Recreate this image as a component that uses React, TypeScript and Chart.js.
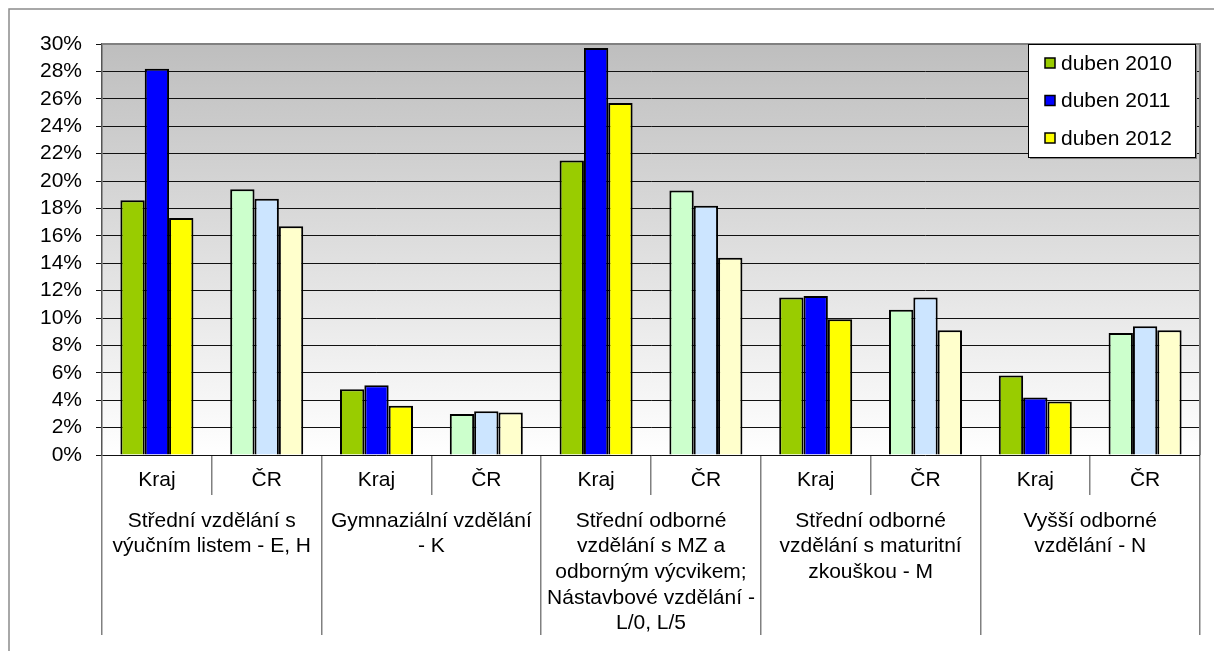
import React, { useEffect, useRef } from "react";
import { Chart, registerables } from "chart.js";

Chart.register(...registerables);

const categories = ["Kraj", "ČR", "Kraj", "ČR", "Kraj", "ČR", "Kraj", "ČR", "Kraj", "ČR"];
const groupLabels = [
  ["Střední vzdělání s", "výučním listem - E, H"],
  ["Gymnaziální vzdělání", "- K"],
  ["Střední odborné", "vzdělání s MZ a", "odborným výcvikem;", "Nástavbové vzdělání -", "L/0, L/5"],
  ["Střední odborné", "vzdělání s maturitní", "zkouškou - M"],
  ["Vyšší odborné", "vzdělání - N"],
];
const seriesNames = ["duben 2010", "duben 2011", "duben 2012"];
const duben2010 = [18.6, 19.4, 4.8, 3.0, 21.5, 19.3, 11.5, 10.6, 5.8, 8.9];
const duben2011 = [28.2, 18.7, 5.1, 3.2, 29.7, 18.2, 11.6, 11.5, 4.2, 9.4];
const duben2012 = [17.3, 16.7, 3.6, 3.1, 25.7, 14.4, 9.9, 9.1, 3.9, 9.1];
const strongColors = ["#99CC00", "#0000FF", "#FFFF00"];
const paleColors = ["#CCFFCC", "#CCE5FF", "#FFFFCC"];

const FONT = "'Liberation Sans', Arial, sans-serif";
const FS = 21;

const backgroundPlugin = {
  id: "bgPlugin",
  beforeDraw(chart: any) {
    const { ctx, chartArea } = chart;
    ctx.save();
    ctx.strokeStyle = "#8c8c8c";
    ctx.lineWidth = 1.5;
    ctx.strokeRect(1, 1, chart.width + 20, chart.height + 20);
    const g = ctx.createLinearGradient(0, chartArea.top, 0, chartArea.bottom);
    g.addColorStop(0, "#BEBEBE");
    g.addColorStop(1, "#FFFFFF");
    ctx.fillStyle = g;
    ctx.fillRect(chartArea.left, chartArea.top, chartArea.right - chartArea.left, chartArea.bottom - chartArea.top);
    ctx.restore();
  },
  afterDraw(chart: any) {
    const { ctx, chartArea } = chart;
    ctx.save();
    ctx.strokeStyle = "#808080";
    ctx.lineWidth = 2;
    ctx.beginPath();
    ctx.moveTo(chartArea.left, chartArea.top);
    ctx.lineTo(chartArea.right, chartArea.top);
    ctx.lineTo(chartArea.right, chartArea.bottom);
    ctx.stroke();

    const w = 167;
    const h = 113;
    const bx = chartArea.right - 5 - w;
    const by = chartArea.top;
    ctx.fillStyle = "#808080";
    ctx.fillRect(bx + 2, by + 2, w, h);
    ctx.fillStyle = "#FFFFFF";
    ctx.fillRect(bx, by, w, h);
    ctx.strokeStyle = "#000";
    ctx.lineWidth = 1;
    ctx.strokeRect(bx + 0.5, by + 0.5, w, h);
    ctx.font = `${FS}px ${FONT}`;
    ctx.textBaseline = "middle";
    ctx.textAlign = "left";
    seriesNames.forEach((name, i) => {
      const cy = by + 19 + i * 37.5;
      ctx.fillStyle = strongColors[i];
      ctx.fillRect(bx + 17, cy - 5, 10, 10);
      ctx.strokeStyle = "#000";
      ctx.lineWidth = 1.5;
      ctx.strokeRect(bx + 17, cy - 5, 10, 10);
      ctx.fillStyle = "#000";
      ctx.fillText(name, bx + 33, cy + 1);
    });
    ctx.restore();
  },
};

export default function App() {
  const ref = useRef<HTMLCanvasElement | null>(null);

  useEffect(() => {
    if (!ref.current) return;
    const series = [duben2010, duben2011, duben2012];
    const chart = new Chart(ref.current, {
      type: "bar",
      data: {
        labels: categories,
        datasets: series.map((vals, i) => ({
          label: seriesNames[i],
          data: vals,
          backgroundColor: categories.map((c) => (c === "Kraj" ? strongColors[i] : paleColors[i])),
          borderColor: "#000",
          borderWidth: 2,
          categoryPercentage: 0.665,
          barPercentage: 1,
        })),
      },
      options: {
        responsive: false,
        animation: false,
        maintainAspectRatio: false,
        layout: { padding: { left: 0, top: 36, right: 14, bottom: 16 } },
        plugins: {
          legend: { display: false },
          tooltip: { enabled: false },
        },
        scales: {
          x: {
            type: "category",
            position: "bottom",
            weight: 0,
            offset: true,
            grid: {
              offset: true,
              drawOnChartArea: false,
              tickLength: 40,
              color: "#808080",
              tickColor: "#808080",
              lineWidth: 1.5,
            },
            border: { display: false },
            ticks: {
              autoSkip: false,
              maxRotation: 0,
              minRotation: 0,
              padding: -27,
              color: "#000",
              font: { family: FONT, size: FS, lineHeight: 1.2 },
            },
            afterFit: (s: any) => {
              s.height = 40;
            },
          },
          x2: {
            type: "category",
            position: "bottom",
            weight: 1,
            labels: groupLabels as any,
            offset: true,
            grid: {
              offset: true,
              drawOnChartArea: false,
              tickLength: 140,
              color: "#808080",
              tickColor: "#808080",
              lineWidth: 1.5,
            },
            border: { display: false },
            ticks: {
              autoSkip: false,
              maxRotation: 0,
              minRotation: 0,
              padding: -127,
              color: "#000",
              font: { family: FONT, size: FS, lineHeight: 1.224 },
            },
            afterFit: (s: any) => {
              s.height = 140;
            },
          },
          y: {
            min: 0,
            max: 30,
            ticks: {
              stepSize: 2,
              autoSkip: false,
              padding: 14,
              color: "#000",
              font: { family: FONT, size: FS, lineHeight: 1 },
              callback: (v: any) => v + "%",
            },
            grid: {
              color: "#111",
              tickColor: "#111",
              tickLength: 6,
              lineWidth: 1,
            },
            border: { display: true, color: "#555", width: 1.5 },
            afterFit: (s: any) => {
              s.width = 94;
            },
          },
        },
      },
      plugins: [backgroundPlugin],
    });
    return () => chart.destroy();
  }, []);

  return (
    <div style={{ position: "absolute", left: 8, top: 8, width: 1206, height: 643 }}>
      <canvas ref={ref} width={1206} height={643} style={{ display: "block" }} />
    </div>
  );
}
